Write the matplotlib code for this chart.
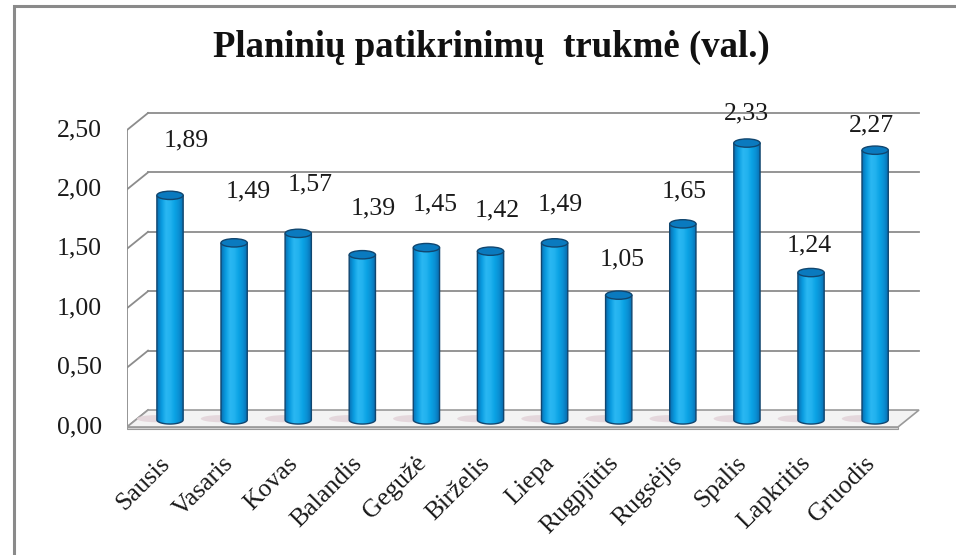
import numpy as np
import matplotlib
matplotlib.use("Agg")
import matplotlib.pyplot as plt
from matplotlib.patches import Ellipse, Polygon, PathPatch, Rectangle
from matplotlib.path import Path
from matplotlib.colors import LinearSegmentedColormap
from matplotlib.transforms import offset_copy

months = ["Sausis", "Vasaris", "Kovas", "Balandis", "Gegužė", "Birželis",
          "Liepa", "Rugpjūtis", "Rugsėjis", "Spalis", "Lapkritis", "Gruodis"]
hours = [1.89, 1.49, 1.57, 1.39, 1.45, 1.42, 1.49, 1.05, 1.65, 2.33, 1.24, 2.27]
yticks = [0.0, 0.5, 1.0, 1.5, 2.0, 2.5]
title = "Planinių patikrinimų  trukmė (val.)"

plt.rcParams["font.family"] = ["Liberation Serif", "DejaVu Serif"]

W, H, DPI = 956, 555, 100
fig = plt.figure(figsize=(W / DPI, H / DPI), dpi=DPI)
fig.patch.set_facecolor("white")

# outer frame (only top and left edges visible in the reference)
fig.patches.append(Rectangle((14 / W, -0.05), 1.2, 1 - 6 / H + 0.05, transform=fig.transFigure,
                             fill=False, edgecolor="#8a8a8a", linewidth=2.2))

# axes placed so that data x=i is the bar centre and y=0 is the front floor edge
x_lo, x_hi = -0.671, 11.70
y_lo, y_hi = -0.15, 2.80
px_x0, px_x1 = 127, 920
px_per_y = 118.8
top_px = 427 - y_hi * px_per_y
bot_px = 427 - y_lo * px_per_y
ax = fig.add_axes([px_x0 / W, (H - bot_px) / H, (px_x1 - px_x0) / W, (bot_px - top_px) / H])
ax.set_xlim(x_lo, x_hi)
ax.set_ylim(y_lo, y_hi)
ax.axis("off")

# 3D perspective offsets
dx, dy = 0.328, 0.143
x_front_l, x_front_r = -0.671, 11.357
grid_col = "#8c8c8c"

# floor slab
floor = Polygon([(x_front_l, 0), (x_front_r, 0), (x_front_r + dx, dy), (x_front_l + dx, dy)],
                closed=True, facecolor="#f3f3f3", edgecolor="#9a9a9a", linewidth=1.2, zorder=1)
ax.add_patch(floor)
ax.add_patch(Polygon([(x_front_l, 0), (x_front_r, 0), (x_front_r, -0.02), (x_front_l, -0.02)],
                     closed=True, facecolor="#d8d8d8", edgecolor="#9a9a9a", linewidth=0.8, zorder=1))

# back wall gridlines and left wall
for g in yticks:
    ax.plot([x_front_l, x_front_l + dx], [g, g + dy], color=grid_col, lw=1.3, zorder=0.5)
    if g > 0:
        ax.plot([x_front_l + dx, x_front_r + dx], [g + dy, g + dy], color=grid_col, lw=1.3, zorder=0.5)
ax.plot([x_front_l, x_front_l], [0, yticks[-1]], color=grid_col, lw=1.3, zorder=0.5)

# cylinders
cmap = LinearSegmentedColormap.from_list("cyl", ["#0870b4", "#0a9ce0", "#2ab7f2", "#22b2ef",
                                                 "#0aa2e4", "#0a8ed2", "#0868aa"])
grad = np.linspace(0, 1, 64).reshape(1, -1)
bw = 0.41
eh = 0.07
base = 0.06
t = np.linspace(np.pi, 2 * np.pi, 40)
for i, v in enumerate(hours):
    top = base + v
    # soft shadow on the floor
    ax.add_patch(Ellipse((i - 0.22, base + 0.01), 0.6, 0.06, facecolor="#e2d3d8",
                         edgecolor="none", alpha=0.85, zorder=1.5))
    verts = [(i - bw / 2, top), (i - bw / 2, base)]
    verts += list(zip(i + bw / 2 * np.cos(t), base + eh / 2 * np.sin(t)))
    verts += [(i + bw / 2, top), (i - bw / 2, top)]
    body = Path(verts, closed=False)
    outline = PathPatch(body, facecolor="none", edgecolor="#11466f", linewidth=1.0, zorder=3)
    im = ax.imshow(grad, extent=[i - bw / 2, i + bw / 2, base - eh, top], aspect="auto",
                   cmap=cmap, zorder=2, interpolation="bilinear")
    clip = PathPatch(body, transform=ax.transData, facecolor="none", edgecolor="none")
    ax.add_patch(clip)
    im.set_clip_path(clip)
    ax.add_patch(outline)
    ax.add_patch(Ellipse((i, top), bw, eh, facecolor="#0a7abf", edgecolor="#11466f",
                         linewidth=1.0, zorder=4))

    # value label (Excel shifts them with perspective)
    ax.text(i + 0.25 - 0.028 * i, v + 0.518 - 0.0228 * i, f"{v:.2f}".replace(".", ","),
            ha="center", va="center", fontsize=18.5, color="#1a1a1a", zorder=5)

ax.set_xlim(x_lo, x_hi)
ax.set_ylim(y_lo, y_hi)

# y tick labels
ytr = offset_copy(ax.transData, fig=fig, x=-25, y=0, units="dots")
for g in yticks:
    ax.text(x_front_l, g, f"{g:.2f}".replace(".", ","), transform=ytr, ha="right", va="center",
            fontsize=18.5, color="#1a1a1a")

# month labels
xtr = offset_copy(ax.transData, fig=fig, x=-4, y=-33, units="dots")
for i, m in enumerate(months):
    ax.text(i, 0, m, transform=xtr, ha="right", va="center", rotation=45,
            rotation_mode="anchor", fontsize=18.5, color="#1a1a1a")

fig.text(491 / W, 1 - 47 / H, title, ha="center", va="center", fontsize=26.5,
         fontweight="bold", color="#111111")

fig.savefig("out.png", dpi=DPI)
